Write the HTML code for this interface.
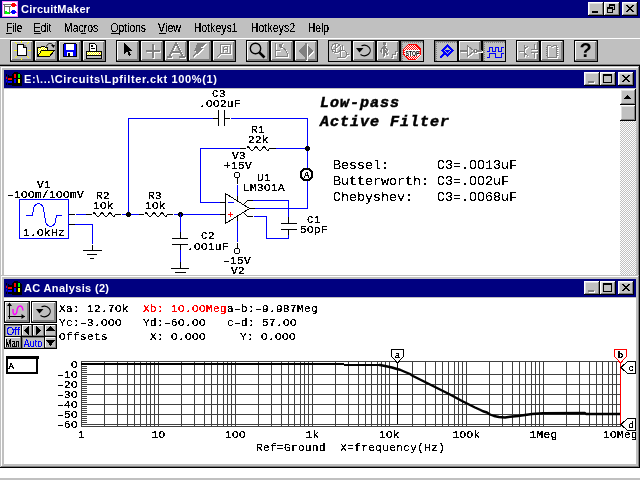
<!DOCTYPE html>
<html><head><meta charset="utf-8"><style>
*{margin:0;padding:0}
html,body{width:640px;height:480px;overflow:hidden;background:#c0c0c0}
svg{display:block;will-change:transform}
text{font-family:"Liberation Sans",sans-serif;white-space:pre}
.tb{font-family:"Liberation Sans",sans-serif;font-weight:bold;font-size:11px;fill:#fff}
.mn{font-family:"Liberation Sans",sans-serif;font-size:12px;fill:#000;filter:url(#thr2)}
.sch{font-family:"Liberation Mono",monospace;font-size:11px;letter-spacing:0.41px;fill:#000;filter:url(#thr)}
.schr{font-family:"Liberation Mono",monospace;font-size:11px;letter-spacing:0.41px;fill:#f00;filter:url(#thr)}
.big{font-family:"Liberation Mono",monospace;font-size:15px;letter-spacing:1px;stroke:#000;stroke-width:0.5px;font-weight:bold;font-style:italic;fill:#000}
.mid{font-family:"Liberation Mono",monospace;font-size:13.33px;fill:#000;filter:url(#thr2)}
.mk{font-family:"Liberation Mono",monospace;font-size:9px;fill:#000;filter:url(#thr)}
.meter{font-family:"Liberation Mono",monospace;font-size:10px;fill:#000;text-anchor:middle}
.sbb{font-family:"Liberation Sans",sans-serif;font-size:11px;fill:#00f;filter:url(#thr2)}
.sbk{font-family:"Liberation Sans",sans-serif;font-size:11px;fill:#000;filter:url(#thr2)}
</style></head><body>
<svg width="640" height="480" viewBox="0 0 640 480" shape-rendering="crispEdges">
<defs><filter id="thr" x="-5%" y="-10%" width="110%" height="120%" color-interpolation-filters="sRGB"><feComponentTransfer><feFuncA type="discrete" tableValues="0 0 0 1 1 1 1 1 1 1"/></feComponentTransfer></filter><filter id="thr2" x="-5%" y="-10%" width="110%" height="120%" color-interpolation-filters="sRGB"><feComponentTransfer><feFuncA type="discrete" tableValues="0 0 0 0 1 1 1 1 1 1"/></feComponentTransfer></filter><pattern id="dither" width="2" height="2" patternUnits="userSpaceOnUse"><rect width="2" height="2" fill="#c0c0c0"/><rect width="1" height="1" fill="#fff"/><rect x="1" y="1" width="1" height="1" fill="#fff"/></pattern><pattern id="ydither" width="2" height="2" patternUnits="userSpaceOnUse"><rect width="2" height="2" fill="#fff"/><rect width="1" height="1" fill="#ffff00"/><rect x="1" y="1" width="1" height="1" fill="#ffff00"/></pattern><pattern id="ddither" width="2" height="2" patternUnits="userSpaceOnUse"><rect width="2" height="2" fill="#c0c0c0"/><rect width="1" height="1" fill="#808080"/><rect x="1" y="1" width="1" height="1" fill="#808080"/></pattern><pattern id="rdither" width="2" height="2" patternUnits="userSpaceOnUse"><rect width="2" height="2" fill="#fff"/><rect width="1" height="1" fill="#f00"/><rect x="1" y="1" width="1" height="1" fill="#f00"/></pattern></defs>
<rect x="0" y="0" width="640" height="480" fill="#c0c0c0"/>
<rect x="0" y="0" width="640" height="18" fill="#000080"/>
<rect x="2" y="1" width="16" height="16" fill="#ff80ff"/>
<rect x="3" y="2" width="14" height="14" fill="#ffffff"/>
<g><rect x="3" y="4" width="9" height="1" fill="#707070"/><rect x="4" y="6" width="7" height="1" fill="#707070"/><rect x="4" y="4" width="1" height="10" fill="#707070"/><rect x="9" y="6" width="1" height="6" fill="#707070"/><rect x="9" y="12" width="3" height="1" fill="#707070"/><rect x="12" y="3" width="3" height="4" fill="#ff0000"/><rect x="15" y="4" width="1" height="2" fill="#ff0000"/><rect x="11" y="4" width="1" height="2" fill="#ff0000"/><rect x="16" y="5" width="1" height="1" fill="#ff00ff"/><rect x="12" y="10" width="3" height="4" fill="#0000ff"/><rect x="11" y="11" width="1" height="2" fill="#0000ff"/><rect x="15" y="11" width="1" height="2" fill="#0000ff"/><rect x="16" y="12" width="1" height="1" fill="#ff00ff"/><rect x="5" y="11" width="2" height="3" fill="#00ff00"/><rect x="7" y="12" width="2" height="2" fill="#00ff00"/><rect x="9" y="13" width="1" height="1" fill="#00c000"/></g>
<text x="21" y="13" class="tb" textLength="69" lengthAdjust="spacing">CircuitMaker</text>
<rect x="588" y="2" width="16" height="14" fill="#c0c0c0"/>
<rect x="588" y="2" width="16" height="1" fill="#ffffff"/>
<rect x="588" y="2" width="1" height="14" fill="#ffffff"/>
<rect x="588" y="15" width="16" height="1" fill="#000000"/>
<rect x="603" y="2" width="1" height="14" fill="#000000"/>
<rect x="589" y="14" width="14" height="1" fill="#808080"/>
<rect x="602" y="3" width="1" height="12" fill="#808080"/>
<rect x="589" y="3" width="13" height="1" fill="#dfdfdf"/>
<rect x="589" y="3" width="1" height="11" fill="#dfdfdf"/>
<rect x="592" y="11" width="6" height="2" fill="#000000"/>
<rect x="604" y="2" width="16" height="14" fill="#c0c0c0"/>
<rect x="604" y="2" width="16" height="1" fill="#ffffff"/>
<rect x="604" y="2" width="1" height="14" fill="#ffffff"/>
<rect x="604" y="15" width="16" height="1" fill="#000000"/>
<rect x="619" y="2" width="1" height="14" fill="#000000"/>
<rect x="605" y="14" width="14" height="1" fill="#808080"/>
<rect x="618" y="3" width="1" height="12" fill="#808080"/>
<rect x="605" y="3" width="13" height="1" fill="#dfdfdf"/>
<rect x="605" y="3" width="1" height="11" fill="#dfdfdf"/>
<rect x="609" y="4" width="6" height="1" fill="#000000"/>
<rect x="609" y="5" width="6" height="1" fill="#000000"/>
<rect x="609" y="4" width="1" height="5" fill="#000000"/>
<rect x="614" y="4" width="1" height="6" fill="#000000"/>
<rect x="612" y="9" width="3" height="1" fill="#000000"/>
<rect x="607" y="7" width="6" height="2" fill="#c0c0c0"/>
<rect x="607" y="7" width="6" height="1" fill="#000000"/>
<rect x="607" y="8" width="6" height="1" fill="#000000"/>
<rect x="607" y="7" width="1" height="6" fill="#000000"/>
<rect x="612" y="7" width="1" height="6" fill="#000000"/>
<rect x="607" y="12" width="6" height="1" fill="#000000"/>
<rect x="622" y="2" width="16" height="14" fill="#c0c0c0"/>
<rect x="622" y="2" width="16" height="1" fill="#ffffff"/>
<rect x="622" y="2" width="1" height="14" fill="#ffffff"/>
<rect x="622" y="15" width="16" height="1" fill="#000000"/>
<rect x="637" y="2" width="1" height="14" fill="#000000"/>
<rect x="623" y="14" width="14" height="1" fill="#808080"/>
<rect x="636" y="3" width="1" height="12" fill="#808080"/>
<rect x="623" y="3" width="13" height="1" fill="#dfdfdf"/>
<rect x="623" y="3" width="1" height="11" fill="#dfdfdf"/>
<rect x="626" y="5" width="2" height="1" fill="#000000"/>
<rect x="632" y="5" width="2" height="1" fill="#000000"/>
<rect x="627" y="6" width="2" height="1" fill="#000000"/>
<rect x="631" y="6" width="2" height="1" fill="#000000"/>
<rect x="628" y="7" width="4" height="1" fill="#000000"/>
<rect x="629" y="8" width="2" height="1" fill="#000000"/>
<rect x="628" y="9" width="4" height="1" fill="#000000"/>
<rect x="627" y="10" width="2" height="1" fill="#000000"/>
<rect x="631" y="10" width="2" height="1" fill="#000000"/>
<rect x="626" y="11" width="2" height="1" fill="#000000"/>
<rect x="632" y="11" width="2" height="1" fill="#000000"/>
<text x="6.2" y="32" class="mn" textLength="16" lengthAdjust="spacingAndGlyphs">File</text>
<text x="33.5" y="32" class="mn" textLength="18" lengthAdjust="spacingAndGlyphs">Edit</text>
<text x="64.1" y="32" class="mn" textLength="34" lengthAdjust="spacingAndGlyphs">Macros</text>
<text x="110.5" y="32" class="mn" textLength="35.5" lengthAdjust="spacingAndGlyphs">Options</text>
<text x="158.1" y="32" class="mn" textLength="23" lengthAdjust="spacingAndGlyphs">View</text>
<text x="193.7" y="32" class="mn" textLength="44" lengthAdjust="spacingAndGlyphs">Hotkeys1</text>
<text x="250.7" y="32" class="mn" textLength="44.5" lengthAdjust="spacingAndGlyphs">Hotkeys2</text>
<text x="307.9" y="32" class="mn" textLength="21" lengthAdjust="spacingAndGlyphs">Help</text>
<rect x="6" y="33" width="6" height="1" fill="#000000"/>
<rect x="34" y="33" width="7" height="1" fill="#000000"/>
<rect x="81" y="33" width="5" height="1" fill="#000000"/>
<rect x="111" y="33" width="8" height="1" fill="#000000"/>
<rect x="159" y="33" width="7" height="1" fill="#000000"/>
<rect x="0" y="38" width="640" height="1" fill="#ffffff"/>
<rect x="10" y="40" width="24" height="22" fill="#c0c0c0"/>
<rect x="10" y="40" width="24" height="1" fill="#000000"/>
<rect x="10" y="61" width="24" height="1" fill="#000000"/>
<rect x="10" y="40" width="1" height="22" fill="#000000"/>
<rect x="33" y="40" width="1" height="22" fill="#000000"/>
<rect x="11" y="41" width="21" height="1" fill="#ffffff"/>
<rect x="11" y="41" width="1" height="19" fill="#ffffff"/>
<rect x="11" y="60" width="22" height="1" fill="#808080"/>
<rect x="32" y="41" width="1" height="20" fill="#808080"/>
<rect x="12" y="59" width="20" height="1" fill="#808080"/>
<rect x="31" y="42" width="1" height="18" fill="#808080"/>
<rect x="34" y="40" width="24" height="22" fill="#c0c0c0"/>
<rect x="34" y="40" width="24" height="1" fill="#000000"/>
<rect x="34" y="61" width="24" height="1" fill="#000000"/>
<rect x="34" y="40" width="1" height="22" fill="#000000"/>
<rect x="57" y="40" width="1" height="22" fill="#000000"/>
<rect x="35" y="41" width="21" height="1" fill="#ffffff"/>
<rect x="35" y="41" width="1" height="19" fill="#ffffff"/>
<rect x="35" y="60" width="22" height="1" fill="#808080"/>
<rect x="56" y="41" width="1" height="20" fill="#808080"/>
<rect x="36" y="59" width="20" height="1" fill="#808080"/>
<rect x="55" y="42" width="1" height="18" fill="#808080"/>
<rect x="58" y="40" width="24" height="22" fill="#c0c0c0"/>
<rect x="58" y="40" width="24" height="1" fill="#000000"/>
<rect x="58" y="61" width="24" height="1" fill="#000000"/>
<rect x="58" y="40" width="1" height="22" fill="#000000"/>
<rect x="81" y="40" width="1" height="22" fill="#000000"/>
<rect x="59" y="41" width="21" height="1" fill="#ffffff"/>
<rect x="59" y="41" width="1" height="19" fill="#ffffff"/>
<rect x="59" y="60" width="22" height="1" fill="#808080"/>
<rect x="80" y="41" width="1" height="20" fill="#808080"/>
<rect x="60" y="59" width="20" height="1" fill="#808080"/>
<rect x="79" y="42" width="1" height="18" fill="#808080"/>
<rect x="82" y="40" width="24" height="22" fill="#c0c0c0"/>
<rect x="82" y="40" width="24" height="1" fill="#000000"/>
<rect x="82" y="61" width="24" height="1" fill="#000000"/>
<rect x="82" y="40" width="1" height="22" fill="#000000"/>
<rect x="105" y="40" width="1" height="22" fill="#000000"/>
<rect x="83" y="41" width="21" height="1" fill="#ffffff"/>
<rect x="83" y="41" width="1" height="19" fill="#ffffff"/>
<rect x="83" y="60" width="22" height="1" fill="#808080"/>
<rect x="104" y="41" width="1" height="20" fill="#808080"/>
<rect x="84" y="59" width="20" height="1" fill="#808080"/>
<rect x="103" y="42" width="1" height="18" fill="#808080"/>
<rect x="116" y="40" width="24" height="22" fill="#c0c0c0"/>
<rect x="116" y="40" width="24" height="1" fill="#000000"/>
<rect x="116" y="61" width="24" height="1" fill="#000000"/>
<rect x="116" y="40" width="1" height="22" fill="#000000"/>
<rect x="139" y="40" width="1" height="22" fill="#000000"/>
<rect x="117" y="41" width="21" height="1" fill="#ffffff"/>
<rect x="117" y="41" width="1" height="19" fill="#ffffff"/>
<rect x="117" y="60" width="22" height="1" fill="#808080"/>
<rect x="138" y="41" width="1" height="20" fill="#808080"/>
<rect x="118" y="59" width="20" height="1" fill="#808080"/>
<rect x="137" y="42" width="1" height="18" fill="#808080"/>
<rect x="140" y="40" width="24" height="22" fill="#c0c0c0"/>
<rect x="140" y="40" width="24" height="1" fill="#000000"/>
<rect x="140" y="61" width="24" height="1" fill="#000000"/>
<rect x="140" y="40" width="1" height="22" fill="#000000"/>
<rect x="163" y="40" width="1" height="22" fill="#000000"/>
<rect x="141" y="41" width="21" height="1" fill="#ffffff"/>
<rect x="141" y="41" width="1" height="19" fill="#ffffff"/>
<rect x="141" y="60" width="22" height="1" fill="#808080"/>
<rect x="162" y="41" width="1" height="20" fill="#808080"/>
<rect x="142" y="59" width="20" height="1" fill="#808080"/>
<rect x="161" y="42" width="1" height="18" fill="#808080"/>
<rect x="164" y="40" width="24" height="22" fill="#c0c0c0"/>
<rect x="164" y="40" width="24" height="1" fill="#000000"/>
<rect x="164" y="61" width="24" height="1" fill="#000000"/>
<rect x="164" y="40" width="1" height="22" fill="#000000"/>
<rect x="187" y="40" width="1" height="22" fill="#000000"/>
<rect x="165" y="41" width="21" height="1" fill="#ffffff"/>
<rect x="165" y="41" width="1" height="19" fill="#ffffff"/>
<rect x="165" y="60" width="22" height="1" fill="#808080"/>
<rect x="186" y="41" width="1" height="20" fill="#808080"/>
<rect x="166" y="59" width="20" height="1" fill="#808080"/>
<rect x="185" y="42" width="1" height="18" fill="#808080"/>
<rect x="188" y="40" width="24" height="22" fill="#c0c0c0"/>
<rect x="188" y="40" width="24" height="1" fill="#000000"/>
<rect x="188" y="61" width="24" height="1" fill="#000000"/>
<rect x="188" y="40" width="1" height="22" fill="#000000"/>
<rect x="211" y="40" width="1" height="22" fill="#000000"/>
<rect x="189" y="41" width="21" height="1" fill="#ffffff"/>
<rect x="189" y="41" width="1" height="19" fill="#ffffff"/>
<rect x="189" y="60" width="22" height="1" fill="#808080"/>
<rect x="210" y="41" width="1" height="20" fill="#808080"/>
<rect x="190" y="59" width="20" height="1" fill="#808080"/>
<rect x="209" y="42" width="1" height="18" fill="#808080"/>
<rect x="212" y="40" width="24" height="22" fill="#c0c0c0"/>
<rect x="212" y="40" width="24" height="1" fill="#000000"/>
<rect x="212" y="61" width="24" height="1" fill="#000000"/>
<rect x="212" y="40" width="1" height="22" fill="#000000"/>
<rect x="235" y="40" width="1" height="22" fill="#000000"/>
<rect x="213" y="41" width="21" height="1" fill="#ffffff"/>
<rect x="213" y="41" width="1" height="19" fill="#ffffff"/>
<rect x="213" y="60" width="22" height="1" fill="#808080"/>
<rect x="234" y="41" width="1" height="20" fill="#808080"/>
<rect x="214" y="59" width="20" height="1" fill="#808080"/>
<rect x="233" y="42" width="1" height="18" fill="#808080"/>
<rect x="246" y="40" width="24" height="22" fill="#c0c0c0"/>
<rect x="246" y="40" width="24" height="1" fill="#000000"/>
<rect x="246" y="61" width="24" height="1" fill="#000000"/>
<rect x="246" y="40" width="1" height="22" fill="#000000"/>
<rect x="269" y="40" width="1" height="22" fill="#000000"/>
<rect x="247" y="41" width="21" height="1" fill="#ffffff"/>
<rect x="247" y="41" width="1" height="19" fill="#ffffff"/>
<rect x="247" y="60" width="22" height="1" fill="#808080"/>
<rect x="268" y="41" width="1" height="20" fill="#808080"/>
<rect x="248" y="59" width="20" height="1" fill="#808080"/>
<rect x="267" y="42" width="1" height="18" fill="#808080"/>
<rect x="270" y="40" width="24" height="22" fill="#c0c0c0"/>
<rect x="270" y="40" width="24" height="1" fill="#000000"/>
<rect x="270" y="61" width="24" height="1" fill="#000000"/>
<rect x="270" y="40" width="1" height="22" fill="#000000"/>
<rect x="293" y="40" width="1" height="22" fill="#000000"/>
<rect x="271" y="41" width="21" height="1" fill="#ffffff"/>
<rect x="271" y="41" width="1" height="19" fill="#ffffff"/>
<rect x="271" y="60" width="22" height="1" fill="#808080"/>
<rect x="292" y="41" width="1" height="20" fill="#808080"/>
<rect x="272" y="59" width="20" height="1" fill="#808080"/>
<rect x="291" y="42" width="1" height="18" fill="#808080"/>
<rect x="294" y="40" width="24" height="22" fill="#c0c0c0"/>
<rect x="294" y="40" width="24" height="1" fill="#000000"/>
<rect x="294" y="61" width="24" height="1" fill="#000000"/>
<rect x="294" y="40" width="1" height="22" fill="#000000"/>
<rect x="317" y="40" width="1" height="22" fill="#000000"/>
<rect x="295" y="41" width="21" height="1" fill="#ffffff"/>
<rect x="295" y="41" width="1" height="19" fill="#ffffff"/>
<rect x="295" y="60" width="22" height="1" fill="#808080"/>
<rect x="316" y="41" width="1" height="20" fill="#808080"/>
<rect x="296" y="59" width="20" height="1" fill="#808080"/>
<rect x="315" y="42" width="1" height="18" fill="#808080"/>
<rect x="328" y="40" width="24" height="22" fill="#c0c0c0"/>
<rect x="328" y="40" width="24" height="1" fill="#000000"/>
<rect x="328" y="61" width="24" height="1" fill="#000000"/>
<rect x="328" y="40" width="1" height="22" fill="#000000"/>
<rect x="351" y="40" width="1" height="22" fill="#000000"/>
<rect x="352" y="40" width="24" height="22" fill="#c0c0c0"/>
<rect x="352" y="40" width="24" height="1" fill="#000000"/>
<rect x="352" y="61" width="24" height="1" fill="#000000"/>
<rect x="352" y="40" width="1" height="22" fill="#000000"/>
<rect x="375" y="40" width="1" height="22" fill="#000000"/>
<rect x="353" y="41" width="21" height="1" fill="#ffffff"/>
<rect x="353" y="41" width="1" height="19" fill="#ffffff"/>
<rect x="353" y="60" width="22" height="1" fill="#808080"/>
<rect x="374" y="41" width="1" height="20" fill="#808080"/>
<rect x="354" y="59" width="20" height="1" fill="#808080"/>
<rect x="373" y="42" width="1" height="18" fill="#808080"/>
<rect x="376" y="40" width="24" height="22" fill="#c0c0c0"/>
<rect x="376" y="40" width="24" height="1" fill="#000000"/>
<rect x="376" y="61" width="24" height="1" fill="#000000"/>
<rect x="376" y="40" width="1" height="22" fill="#000000"/>
<rect x="399" y="40" width="1" height="22" fill="#000000"/>
<rect x="377" y="41" width="21" height="1" fill="#ffffff"/>
<rect x="377" y="41" width="1" height="19" fill="#ffffff"/>
<rect x="377" y="60" width="22" height="1" fill="#808080"/>
<rect x="398" y="41" width="1" height="20" fill="#808080"/>
<rect x="378" y="59" width="20" height="1" fill="#808080"/>
<rect x="397" y="42" width="1" height="18" fill="#808080"/>
<rect x="400" y="40" width="24" height="22" fill="#c0c0c0"/>
<rect x="400" y="40" width="24" height="1" fill="#000000"/>
<rect x="400" y="61" width="24" height="1" fill="#000000"/>
<rect x="400" y="40" width="1" height="22" fill="#000000"/>
<rect x="423" y="40" width="1" height="22" fill="#000000"/>
<rect x="401" y="41" width="22" height="1" fill="#808080"/>
<rect x="401" y="41" width="1" height="20" fill="#808080"/>
<rect x="402" y="42" width="21" height="1" fill="url(#ddither)"/>
<rect x="402" y="42" width="1" height="19" fill="url(#ddither)"/>
<rect x="434" y="40" width="24" height="22" fill="#c0c0c0"/>
<rect x="434" y="40" width="24" height="1" fill="#000000"/>
<rect x="434" y="61" width="24" height="1" fill="#000000"/>
<rect x="434" y="40" width="1" height="22" fill="#000000"/>
<rect x="457" y="40" width="1" height="22" fill="#000000"/>
<rect x="435" y="41" width="22" height="1" fill="#808080"/>
<rect x="435" y="41" width="1" height="20" fill="#808080"/>
<rect x="436" y="42" width="21" height="1" fill="url(#ddither)"/>
<rect x="436" y="42" width="1" height="19" fill="url(#ddither)"/>
<rect x="458" y="40" width="24" height="22" fill="#c0c0c0"/>
<rect x="458" y="40" width="24" height="1" fill="#000000"/>
<rect x="458" y="61" width="24" height="1" fill="#000000"/>
<rect x="458" y="40" width="1" height="22" fill="#000000"/>
<rect x="481" y="40" width="1" height="22" fill="#000000"/>
<rect x="459" y="41" width="21" height="1" fill="#ffffff"/>
<rect x="459" y="41" width="1" height="19" fill="#ffffff"/>
<rect x="459" y="60" width="22" height="1" fill="#808080"/>
<rect x="480" y="41" width="1" height="20" fill="#808080"/>
<rect x="460" y="59" width="20" height="1" fill="#808080"/>
<rect x="479" y="42" width="1" height="18" fill="#808080"/>
<rect x="482" y="40" width="24" height="22" fill="#c0c0c0"/>
<rect x="482" y="40" width="24" height="1" fill="#000000"/>
<rect x="482" y="61" width="24" height="1" fill="#000000"/>
<rect x="482" y="40" width="1" height="22" fill="#000000"/>
<rect x="505" y="40" width="1" height="22" fill="#000000"/>
<rect x="483" y="41" width="22" height="1" fill="#808080"/>
<rect x="483" y="41" width="1" height="20" fill="#808080"/>
<rect x="484" y="42" width="21" height="1" fill="url(#ddither)"/>
<rect x="484" y="42" width="1" height="19" fill="url(#ddither)"/>
<rect x="516" y="40" width="24" height="22" fill="#c0c0c0"/>
<rect x="516" y="40" width="24" height="1" fill="#000000"/>
<rect x="516" y="61" width="24" height="1" fill="#000000"/>
<rect x="516" y="40" width="1" height="22" fill="#000000"/>
<rect x="539" y="40" width="1" height="22" fill="#000000"/>
<rect x="517" y="41" width="21" height="1" fill="#ffffff"/>
<rect x="517" y="41" width="1" height="19" fill="#ffffff"/>
<rect x="517" y="60" width="22" height="1" fill="#808080"/>
<rect x="538" y="41" width="1" height="20" fill="#808080"/>
<rect x="518" y="59" width="20" height="1" fill="#808080"/>
<rect x="537" y="42" width="1" height="18" fill="#808080"/>
<rect x="540" y="40" width="24" height="22" fill="#c0c0c0"/>
<rect x="540" y="40" width="24" height="1" fill="#000000"/>
<rect x="540" y="61" width="24" height="1" fill="#000000"/>
<rect x="540" y="40" width="1" height="22" fill="#000000"/>
<rect x="563" y="40" width="1" height="22" fill="#000000"/>
<rect x="541" y="41" width="21" height="1" fill="#ffffff"/>
<rect x="541" y="41" width="1" height="19" fill="#ffffff"/>
<rect x="541" y="60" width="22" height="1" fill="#808080"/>
<rect x="562" y="41" width="1" height="20" fill="#808080"/>
<rect x="542" y="59" width="20" height="1" fill="#808080"/>
<rect x="561" y="42" width="1" height="18" fill="#808080"/>
<rect x="574" y="40" width="24" height="22" fill="#c0c0c0"/>
<rect x="574" y="40" width="24" height="1" fill="#000000"/>
<rect x="574" y="61" width="24" height="1" fill="#000000"/>
<rect x="574" y="40" width="1" height="22" fill="#000000"/>
<rect x="597" y="40" width="1" height="22" fill="#000000"/>
<rect x="575" y="41" width="21" height="1" fill="#ffffff"/>
<rect x="575" y="41" width="1" height="19" fill="#ffffff"/>
<rect x="575" y="60" width="22" height="1" fill="#808080"/>
<rect x="596" y="41" width="1" height="20" fill="#808080"/>
<rect x="576" y="59" width="20" height="1" fill="#808080"/>
<rect x="595" y="42" width="1" height="18" fill="#808080"/>
<rect x="0" y="64" width="640" height="1" fill="#808080"/>
<rect x="0" y="65" width="640" height="1" fill="#000000"/>
<g transform="translate(10,40)"><path d="M7.5,4.5 H13.5 L16.5,7.5 V15.5 H7.5 Z" fill="#fff" stroke="#000"/><path d="M13.5,4.5 V7.5 H16.5" fill="none" stroke="#000"/><rect x="14" y="5" width="2" height="2" fill="#808080"/><g fill="#ffff00"><rect x="11" y="1" width="1" height="2"/><rect x="4" y="10" width="3" height="1"/><rect x="18" y="10" width="3" height="1"/><rect x="11" y="18" width="1" height="2"/><rect x="5" y="2" width="1" height="1"/><rect x="6" y="3" width="1" height="1"/><rect x="17" y="3" width="1" height="1"/><rect x="18" y="2" width="1" height="1"/><rect x="5" y="17" width="1" height="1"/><rect x="6" y="16" width="1" height="1"/><rect x="17" y="16" width="1" height="1"/><rect x="18" y="17" width="1" height="1"/></g></g>
<g transform="translate(34,40)"><path d="M3.5,7.5 H6.5 L7.5,6.5 H10.5 L11.5,7.5 H13.5 V10.5 H3.5 Z" fill="url(#ydither)" stroke="#000"/><rect x="4" y="8" width="9" height="8" fill="url(#ydither)"/><path d="M3.5,7.5 V16.5" stroke="#000"/><path d="M7.5,10.5 H20.5 L15.5,16.5 H3.5 Z" fill="#ffff00" stroke="#000"/><path d="M12.5,6.5 C13.5,3 17,2.5 19,5" fill="none" stroke="#000" shape-rendering="auto"/><path d="M17,5 L21,5 L19.5,8 Z" fill="#000" shape-rendering="auto"/></g>
<g transform="translate(58,40)"><rect x="5.5" y="3.5" width="13" height="13" fill="#0000ff" stroke="#000"/><rect x="8" y="4" width="8" height="6" fill="#fff"/><rect x="9" y="12" width="6" height="4" fill="#fff"/><rect x="10" y="13" width="2" height="3" fill="#000"/><rect x="5" y="3" width="1" height="1" fill="#c0c0c0"/><rect x="18" y="3" width="1" height="1" fill="#c0c0c0"/></g>
<g transform="translate(82,40)"><path d="M7.5,3.5 H12.5 L14.5,5.5 V11.5 H7.5 Z" fill="#fff" stroke="#000"/><rect x="9" y="5" width="2" height="2" fill="#000"/><rect x="9" y="8" width="4" height="1" fill="#000"/><rect x="4.5" y="11.5" width="15" height="4" fill="url(#ydither)" stroke="#000"/><rect x="17" y="13" width="1" height="1" fill="#f00"/><rect x="4.5" y="15.5" width="15" height="3" fill="#c0c0c0" stroke="#000"/></g>
<g transform="translate(116,40)"><path d="M8,3 V14 L11,11 L13,16 L15,15 L13,10.5 L16,10.5 Z" fill="#000"/></g>
<g transform="translate(140,40)"><g transform="translate(1,1)" fill="#fff" stroke="#fff"><rect x="6" y="10" width="13" height="1"/><rect x="12" y="4" width="1" height="13"/></g><g fill="#808080" stroke="#808080"><rect x="6" y="10" width="13" height="1"/><rect x="12" y="4" width="1" height="13"/></g></g>
<g transform="translate(164,40)"><g transform="translate(1,1)" fill="#fff" stroke="#fff"><path d="M3,17 H8 M15,17 H21 M5,17 L12,3 L19,17 M8,12 H16" fill="none" stroke-width="1.5"/></g><g fill="#808080" stroke="#808080"><path d="M3,17 H8 M15,17 H21 M5,17 L12,3 L19,17 M8,12 H16" fill="none" stroke-width="1.5"/></g></g>
<g transform="translate(188,40)"><g transform="translate(1,1)" fill="#fff" stroke="#fff"><path d="M18,3 L10,3 L7,10 L10,10 L5,17 L15,8 L12,8 Z"/></g><g fill="#808080" stroke="#808080"><path d="M18,3 L10,3 L7,10 L10,10 L5,17 L15,8 L12,8 Z"/></g></g>
<g transform="translate(212,40)"><g transform="translate(1,1)" fill="#fff" stroke="#fff"><rect x="8.5" y="4.5" width="10" height="9" fill="none"/><path d="M11.5,6.5 H15.5 V11.5 M11.5,6.5 V11.5 M11.5,9.5 H15.5" fill="none"/><path d="M8.5,13.5 L4.5,17.5" fill="none"/></g><g fill="#808080" stroke="#808080"><rect x="8.5" y="4.5" width="10" height="9" fill="none"/><path d="M11.5,6.5 H15.5 V11.5 M11.5,6.5 V11.5 M11.5,9.5 H15.5" fill="none"/><path d="M8.5,13.5 L4.5,17.5" fill="none"/></g></g>
<g transform="translate(246,40)"><circle cx="9.5" cy="8.5" r="5.2" fill="none" stroke="#000" stroke-width="1.4" shape-rendering="auto"/><path d="M13.3,12.3 L18.5,17.5" stroke="#000" stroke-width="2.6" shape-rendering="auto"/></g>
<g transform="translate(270,40)"><g transform="translate(1,1)" fill="#fff" stroke="#fff"><path d="M5.5,3 V17 M5.5,16.5 H18 M5.5,10.5 H10 M17.5,16 Q17,8 10,7" fill="none"/><path d="M9,5 L12,4 L11,8 Z"/></g><g fill="#808080" stroke="#808080"><path d="M5.5,3 V17 M5.5,16.5 H18 M5.5,10.5 H10 M17.5,16 Q17,8 10,7" fill="none"/><path d="M9,5 L12,4 L11,8 Z"/></g></g>
<g transform="translate(294,40)"><g transform="translate(1,1)" fill="#fff" stroke="#fff"><path d="M10,6 L5,11 L10,16 Z"/><path d="M14,6 L19,11 L14,16 Z"/><rect x="11.5" y="3" width="1" height="16"/></g><g fill="#808080" stroke="#808080"><path d="M10,6 L5,11 L10,16 Z"/><path d="M14,6 L19,11 L14,16 Z"/><rect x="11.5" y="3" width="1" height="16"/></g></g>
<g transform="translate(328,40)"><g transform="translate(1,1)" fill="#fff" stroke="#fff"><circle cx="8" cy="8" r="4.5" fill="none"/><path d="M7.5,4 V12 M4,9.5 H7.5 M7.5,8.5 L10.5,5.5" fill="none"/><path d="M12.5,10.5 H15.5 A3,3.5 0 0 1 15.5,17.5 H12.5 Z" fill="none"/><path d="M19,14.5 H21 M9,17.5 H12 M14.5,5 V10" fill="none"/></g><g fill="#808080" stroke="#808080"><circle cx="8" cy="8" r="4.5" fill="none"/><path d="M7.5,4 V12 M4,9.5 H7.5 M7.5,8.5 L10.5,5.5" fill="none"/><path d="M12.5,10.5 H15.5 A3,3.5 0 0 1 15.5,17.5 H12.5 Z" fill="none"/><path d="M19,14.5 H21 M9,17.5 H12 M14.5,5 V10" fill="none"/></g></g>
<g transform="translate(352,40)"><path d="M9.5,5.8 A6,5.2 0 1 1 8.5,14.5" fill="none" stroke="#000" stroke-width="1.1" shape-rendering="auto"/><path d="M4,8 L11.5,8 L7.5,12.5 Z" fill="#000" shape-rendering="auto"/></g>
<g transform="translate(376,40)"><g transform="translate(1,1)" fill="#fff" stroke="#fff"><circle cx="8.5" cy="3.5" r="1.6" stroke="none"/><path d="M8.5,5.5 L8,12.5 M8.3,6.5 L5.5,9 L5,12.5 M8.5,6.5 L10.5,9 L12,10 M8.3,10.5 L10.5,12.5 L11.5,15.5 M8,12 L7.5,17.5" fill="none" stroke-width="1.8"/><path d="M14.5,17.5 H16.5 V14.5 H19.5 V11.5 H21" fill="none"/></g><g fill="#808080" stroke="#808080"><circle cx="8.5" cy="3.5" r="1.6" stroke="none"/><path d="M8.5,5.5 L8,12.5 M8.3,6.5 L5.5,9 L5,12.5 M8.5,6.5 L10.5,9 L12,10 M8.3,10.5 L10.5,12.5 L11.5,15.5 M8,12 L7.5,17.5" fill="none" stroke-width="1.8"/><path d="M14.5,17.5 H16.5 V14.5 H19.5 V11.5 H21" fill="none"/></g></g>
<g transform="translate(400,40)"><path d="M8,4 H16 L21,9 V15 L16,20 H8 L3,15 V9 Z" fill="url(#rdither)" stroke="none"/><path d="M8.5,4.5 H15.5 L20.5,9.5 V14.5 L15.5,19.5 H8.5 L3.5,14.5 V9.5 Z" fill="none" stroke="#f00" stroke-width="1.4"/><rect x="5" y="10" width="14" height="6" fill="#fff"/><text x="12.5" y="15.6" text-anchor="middle" font-family="Liberation Sans" font-weight="bold" font-size="8" fill="#000" textLength="14" lengthAdjust="spacingAndGlyphs">STOP</text></g>
<g transform="translate(435,41)"><path d="M12.5,4.5 L17.5,9.5 L12.5,14.5 L7.5,9.5 Z" fill="none" stroke="#0000ff" stroke-width="1.5"/><path d="M10,9 H15 L12.5,12 Z" fill="#0000ff"/><path d="M9.5,12.5 L5,17" stroke="#0000ff" stroke-width="1.5"/></g>
<g transform="translate(458,40)"><g transform="translate(1,1)" fill="#fff" stroke="#fff"><path d="M9.5,5.5 L16,11 L9.5,16.5 Z" fill="none"/><circle cx="17.5" cy="11" r="1.5" fill="none"/><rect x="2" y="10" width="7" height="1"/><rect x="19" y="10" width="4" height="1"/></g><g fill="#808080" stroke="#808080"><path d="M9.5,5.5 L16,11 L9.5,16.5 Z" fill="none"/><circle cx="17.5" cy="11" r="1.5" fill="none"/><rect x="2" y="10" width="7" height="1"/><rect x="19" y="10" width="4" height="1"/></g></g>
<g transform="translate(483,41)"><path d="M4,10.5 H6.5 V6.5 H9.5 V10.5 H12.5 V6.5 H15.5 V10.5 H18.5 V6.5 H21" fill="none" stroke="#0000ff" stroke-width="1.5"/><path d="M4,16.5 H6.5 V12.5 H12.5 V16.5 H18.5 V12.5 H21" fill="none" stroke="#0000ff" stroke-width="1.5"/></g>
<g transform="translate(516,40)"><g transform="translate(1,1)" fill="#fff" stroke="#fff"><path d="M8.5,5 V17 M3,11 H8.5 M8.5,9 L12,6 M8.5,13 L12,16 M15,9.5 H21 M15,12.5 H21 M18,4 V9.5 M18,12.5 V18" fill="none"/></g><g fill="#808080" stroke="#808080"><path d="M8.5,5 V17 M3,11 H8.5 M8.5,9 L12,6 M8.5,13 L12,16 M15,9.5 H21 M15,12.5 H21 M18,4 V9.5 M18,12.5 V18" fill="none"/></g></g>
<g transform="translate(540,40)"><g transform="translate(1,1)" fill="#fff" stroke="#fff"><path d="M7.5,5.5 H10.5 Q12,8 13.5,5.5 H16.5 V17.5 H7.5 Z" fill="none"/><path d="M6,7 H7 M6,9 H7 M6,11 H7 M6,13 H7 M6,15 H7 M17,7 H18 M17,9 H18 M17,11 H18 M17,13 H18 M17,15 H18" fill="none"/></g><g fill="#808080" stroke="#808080"><path d="M7.5,5.5 H10.5 Q12,8 13.5,5.5 H16.5 V17.5 H7.5 Z" fill="none"/><path d="M6,7 H7 M6,9 H7 M6,11 H7 M6,13 H7 M6,15 H7 M17,7 H18 M17,9 H18 M17,11 H18 M17,13 H18 M17,15 H18" fill="none"/></g></g>
<g transform="translate(574,40)"><text x="11.5" y="17" text-anchor="middle" font-family="Liberation Serif" font-weight="bold" font-size="20" fill="#000">?</text></g>
<rect x="0" y="66" width="640" height="412" fill="#ffffff"/>
<rect x="0" y="478" width="640" height="1" fill="#c0c0c0"/>
<rect x="0" y="479" width="640" height="1" fill="#c0c0c0"/>
<rect x="0" y="66" width="640" height="260" fill="#c0c0c0"/>
<rect x="0" y="66" width="640" height="1" fill="#c0c0c0"/>
<rect x="0" y="66" width="1" height="260" fill="#c0c0c0"/>
<rect x="1" y="67" width="638" height="1" fill="#ffffff"/>
<rect x="1" y="67" width="1" height="258" fill="#ffffff"/>
<rect x="0" y="325" width="640" height="1" fill="#000000"/>
<rect x="639" y="66" width="1" height="260" fill="#000000"/>
<rect x="1" y="324" width="638" height="1" fill="#808080"/>
<rect x="638" y="67" width="1" height="258" fill="#808080"/>
<rect x="4" y="70" width="632" height="18" fill="#000080"/>
<g><rect x="6" y="74" width="1" height="1" fill="#000"/><rect x="6" y="75" width="1" height="1" fill="#000"/><rect x="6" y="77" width="1" height="1" fill="#ff0000"/><rect x="6" y="78" width="1" height="1" fill="#ff0000"/><rect x="6" y="80" width="1" height="1" fill="#0000ff"/><rect x="6" y="81" width="1" height="1" fill="#0000ff"/><rect x="6" y="83" width="1" height="1" fill="#000"/><rect x="6" y="84" width="1" height="1" fill="#000"/><rect x="8" y="75" width="1" height="1" fill="#000"/><rect x="8" y="76" width="1" height="1" fill="#000"/><rect x="8" y="77" width="1" height="1" fill="#000"/><rect x="8" y="78" width="1" height="1" fill="#ff0000"/><rect x="8" y="79" width="1" height="1" fill="#ff0000"/><rect x="8" y="80" width="1" height="1" fill="#000"/><rect x="8" y="81" width="1" height="1" fill="#0000ff"/><rect x="8" y="82" width="1" height="1" fill="#0000ff"/><rect x="8" y="83" width="1" height="1" fill="#000"/><rect x="8" y="84" width="1" height="1" fill="#000"/><rect x="9" y="76" width="1" height="1" fill="#000"/><rect x="9" y="77" width="1" height="1" fill="#000"/><rect x="9" y="78" width="1" height="1" fill="#ff0000"/><rect x="9" y="79" width="1" height="1" fill="#ff0000"/><rect x="9" y="80" width="1" height="1" fill="#000"/><rect x="9" y="81" width="1" height="1" fill="#0000ff"/><rect x="9" y="82" width="1" height="1" fill="#0000ff"/><rect x="9" y="83" width="1" height="1" fill="#000"/><rect x="9" y="84" width="1" height="1" fill="#000"/><rect x="10" y="76" width="1" height="1" fill="#000"/><rect x="10" y="77" width="1" height="1" fill="#000"/><rect x="10" y="78" width="1" height="1" fill="#ff0000"/><rect x="10" y="79" width="1" height="1" fill="#ff0000"/><rect x="10" y="80" width="1" height="1" fill="#000"/><rect x="10" y="81" width="1" height="1" fill="#0000ff"/><rect x="10" y="82" width="1" height="1" fill="#0000ff"/><rect x="10" y="83" width="1" height="1" fill="#000"/><rect x="10" y="84" width="1" height="1" fill="#000"/><rect x="11" y="76" width="1" height="1" fill="#000"/><rect x="11" y="77" width="1" height="1" fill="#000"/><rect x="11" y="78" width="1" height="1" fill="#ff0000"/><rect x="11" y="79" width="1" height="1" fill="#ff0000"/><rect x="11" y="80" width="1" height="1" fill="#000"/><rect x="11" y="81" width="1" height="1" fill="#0000ff"/><rect x="11" y="82" width="1" height="1" fill="#0000ff"/><rect x="11" y="83" width="1" height="1" fill="#000"/><rect x="11" y="84" width="1" height="1" fill="#000"/><rect x="12" y="74" width="1" height="1" fill="#000"/><rect x="12" y="75" width="1" height="1" fill="#000"/><rect x="12" y="76" width="1" height="1" fill="#000"/><rect x="12" y="77" width="1" height="1" fill="#000"/><rect x="12" y="78" width="1" height="1" fill="#000"/><rect x="12" y="79" width="1" height="1" fill="#000"/><rect x="12" y="80" width="1" height="1" fill="#000"/><rect x="12" y="81" width="1" height="1" fill="#000"/><rect x="12" y="82" width="1" height="1" fill="#000"/><rect x="12" y="83" width="1" height="1" fill="#000"/><rect x="12" y="84" width="1" height="1" fill="#000"/><rect x="12" y="85" width="1" height="1" fill="#000"/><rect x="13" y="73" width="1" height="1" fill="#000"/><rect x="13" y="74" width="1" height="1" fill="#000"/><rect x="13" y="75" width="1" height="1" fill="#000"/><rect x="13" y="76" width="1" height="1" fill="#000"/><rect x="13" y="77" width="1" height="1" fill="#000"/><rect x="13" y="78" width="1" height="1" fill="#000"/><rect x="13" y="79" width="1" height="1" fill="#000"/><rect x="13" y="80" width="1" height="1" fill="#000"/><rect x="13" y="81" width="1" height="1" fill="#000"/><rect x="13" y="82" width="1" height="1" fill="#000"/><rect x="13" y="83" width="1" height="1" fill="#000"/><rect x="13" y="84" width="1" height="1" fill="#000"/><rect x="13" y="85" width="1" height="1" fill="#000"/><rect x="14" y="72" width="1" height="1" fill="#000"/><rect x="14" y="73" width="1" height="1" fill="#000"/><rect x="14" y="74" width="1" height="1" fill="#ff0000"/><rect x="14" y="75" width="1" height="1" fill="#ff0000"/><rect x="14" y="76" width="1" height="1" fill="#ff0000"/><rect x="14" y="77" width="1" height="1" fill="#ff0000"/><rect x="14" y="78" width="1" height="1" fill="#000"/><rect x="14" y="79" width="1" height="1" fill="#0000ff"/><rect x="14" y="80" width="1" height="1" fill="#0000ff"/><rect x="14" y="81" width="1" height="1" fill="#0000ff"/><rect x="14" y="82" width="1" height="1" fill="#0000ff"/><rect x="14" y="83" width="1" height="1" fill="#000"/><rect x="14" y="84" width="1" height="1" fill="#000"/><rect x="14" y="85" width="1" height="1" fill="#000"/><rect x="15" y="72" width="1" height="1" fill="#000"/><rect x="15" y="73" width="1" height="1" fill="#000"/><rect x="15" y="74" width="1" height="1" fill="#ff0000"/><rect x="15" y="75" width="1" height="1" fill="#ff0000"/><rect x="15" y="76" width="1" height="1" fill="#ff0000"/><rect x="15" y="77" width="1" height="1" fill="#ff0000"/><rect x="15" y="78" width="1" height="1" fill="#000"/><rect x="15" y="79" width="1" height="1" fill="#0000ff"/><rect x="15" y="80" width="1" height="1" fill="#0000ff"/><rect x="15" y="81" width="1" height="1" fill="#0000ff"/><rect x="15" y="82" width="1" height="1" fill="#0000ff"/><rect x="15" y="83" width="1" height="1" fill="#000"/><rect x="15" y="84" width="1" height="1" fill="#000"/><rect x="15" y="85" width="1" height="1" fill="#000"/><rect x="16" y="72" width="1" height="1" fill="#000"/><rect x="16" y="73" width="1" height="1" fill="#000"/><rect x="16" y="74" width="1" height="1" fill="#000"/><rect x="16" y="75" width="1" height="1" fill="#000"/><rect x="16" y="76" width="1" height="1" fill="#000"/><rect x="16" y="77" width="1" height="1" fill="#000"/><rect x="16" y="78" width="1" height="1" fill="#000"/><rect x="16" y="79" width="1" height="1" fill="#000"/><rect x="16" y="80" width="1" height="1" fill="#000"/><rect x="16" y="81" width="1" height="1" fill="#000"/><rect x="16" y="82" width="1" height="1" fill="#000"/><rect x="16" y="83" width="1" height="1" fill="#000"/><rect x="16" y="84" width="1" height="1" fill="#000"/><rect x="16" y="85" width="1" height="1" fill="#000"/><rect x="17" y="72" width="1" height="1" fill="#000"/><rect x="17" y="73" width="1" height="1" fill="#000"/><rect x="17" y="74" width="1" height="1" fill="#000"/><rect x="17" y="75" width="1" height="1" fill="#000"/><rect x="17" y="76" width="1" height="1" fill="#000"/><rect x="17" y="77" width="1" height="1" fill="#000"/><rect x="17" y="78" width="1" height="1" fill="#000"/><rect x="17" y="79" width="1" height="1" fill="#000"/><rect x="17" y="80" width="1" height="1" fill="#000"/><rect x="17" y="81" width="1" height="1" fill="#000"/><rect x="17" y="82" width="1" height="1" fill="#000"/><rect x="17" y="83" width="1" height="1" fill="#000"/><rect x="17" y="84" width="1" height="1" fill="#000"/><rect x="17" y="85" width="1" height="1" fill="#000"/><rect x="18" y="73" width="1" height="1" fill="#000"/><rect x="18" y="74" width="1" height="1" fill="#00ff00"/><rect x="18" y="75" width="1" height="1" fill="#00ff00"/><rect x="18" y="76" width="1" height="1" fill="#00ff00"/><rect x="18" y="77" width="1" height="1" fill="#00ff00"/><rect x="18" y="78" width="1" height="1" fill="#000"/><rect x="18" y="79" width="1" height="1" fill="#ffff00"/><rect x="18" y="80" width="1" height="1" fill="#ffff00"/><rect x="18" y="81" width="1" height="1" fill="#ffff00"/><rect x="18" y="82" width="1" height="1" fill="#ffff00"/><rect x="18" y="83" width="1" height="1" fill="#000"/><rect x="18" y="84" width="1" height="1" fill="#000"/><rect x="18" y="85" width="1" height="1" fill="#000"/><rect x="19" y="73" width="1" height="1" fill="#000"/><rect x="19" y="74" width="1" height="1" fill="#00ff00"/><rect x="19" y="75" width="1" height="1" fill="#00ff00"/><rect x="19" y="76" width="1" height="1" fill="#00ff00"/><rect x="19" y="77" width="1" height="1" fill="#00ff00"/><rect x="19" y="78" width="1" height="1" fill="#000"/><rect x="19" y="79" width="1" height="1" fill="#ffff00"/><rect x="19" y="80" width="1" height="1" fill="#ffff00"/><rect x="19" y="81" width="1" height="1" fill="#ffff00"/><rect x="19" y="82" width="1" height="1" fill="#ffff00"/><rect x="19" y="83" width="1" height="1" fill="#000"/><rect x="19" y="84" width="1" height="1" fill="#000"/><rect x="19" y="85" width="1" height="1" fill="#000"/><rect x="20" y="74" width="1" height="1" fill="#000"/><rect x="20" y="75" width="1" height="1" fill="#000"/><rect x="20" y="76" width="1" height="1" fill="#000"/><rect x="20" y="77" width="1" height="1" fill="#000"/><rect x="20" y="78" width="1" height="1" fill="#000"/><rect x="20" y="79" width="1" height="1" fill="#000"/><rect x="20" y="80" width="1" height="1" fill="#000"/><rect x="20" y="81" width="1" height="1" fill="#000"/><rect x="20" y="82" width="1" height="1" fill="#000"/><rect x="20" y="83" width="1" height="1" fill="#000"/><rect x="20" y="84" width="1" height="1" fill="#000"/><rect x="20" y="85" width="1" height="1" fill="#000"/><rect x="21" y="75" width="1" height="1" fill="#000"/><rect x="21" y="76" width="1" height="1" fill="#000"/><rect x="21" y="77" width="1" height="1" fill="#000"/><rect x="21" y="78" width="1" height="1" fill="#000"/><rect x="21" y="79" width="1" height="1" fill="#000"/><rect x="21" y="80" width="1" height="1" fill="#000"/><rect x="21" y="81" width="1" height="1" fill="#000"/><rect x="21" y="82" width="1" height="1" fill="#000"/><rect x="21" y="83" width="1" height="1" fill="#000"/><rect x="21" y="84" width="1" height="1" fill="#000"/><rect x="21" y="85" width="1" height="1" fill="#000"/></g>
<text x="24" y="83" class="tb" textLength="193" lengthAdjust="spacing">E:\...\Circuits\Lpfilter.ckt 100%(1)</text>
<rect x="584" y="72" width="16" height="14" fill="#c0c0c0"/>
<rect x="584" y="72" width="16" height="1" fill="#ffffff"/>
<rect x="584" y="72" width="1" height="14" fill="#ffffff"/>
<rect x="584" y="85" width="16" height="1" fill="#000000"/>
<rect x="599" y="72" width="1" height="14" fill="#000000"/>
<rect x="585" y="84" width="14" height="1" fill="#808080"/>
<rect x="598" y="73" width="1" height="12" fill="#808080"/>
<rect x="585" y="73" width="13" height="1" fill="#dfdfdf"/>
<rect x="585" y="73" width="1" height="11" fill="#dfdfdf"/>
<rect x="589" y="82" width="6" height="2" fill="#ffffff"/>
<rect x="588" y="81" width="6" height="2" fill="#808080"/>
<rect x="600" y="72" width="16" height="14" fill="#c0c0c0"/>
<rect x="600" y="72" width="16" height="1" fill="#ffffff"/>
<rect x="600" y="72" width="1" height="14" fill="#ffffff"/>
<rect x="600" y="85" width="16" height="1" fill="#000000"/>
<rect x="615" y="72" width="1" height="14" fill="#000000"/>
<rect x="601" y="84" width="14" height="1" fill="#808080"/>
<rect x="614" y="73" width="1" height="12" fill="#808080"/>
<rect x="601" y="73" width="13" height="1" fill="#dfdfdf"/>
<rect x="601" y="73" width="1" height="11" fill="#dfdfdf"/>
<rect x="603" y="74" width="9" height="9" fill="#000000"/>
<rect x="604" y="76" width="7" height="6" fill="#c0c0c0"/>
<rect x="618" y="72" width="16" height="14" fill="#c0c0c0"/>
<rect x="618" y="72" width="16" height="1" fill="#ffffff"/>
<rect x="618" y="72" width="1" height="14" fill="#ffffff"/>
<rect x="618" y="85" width="16" height="1" fill="#000000"/>
<rect x="633" y="72" width="1" height="14" fill="#000000"/>
<rect x="619" y="84" width="14" height="1" fill="#808080"/>
<rect x="632" y="73" width="1" height="12" fill="#808080"/>
<rect x="619" y="73" width="13" height="1" fill="#dfdfdf"/>
<rect x="619" y="73" width="1" height="11" fill="#dfdfdf"/>
<rect x="622" y="75" width="2" height="1" fill="#000000"/>
<rect x="628" y="75" width="2" height="1" fill="#000000"/>
<rect x="623" y="76" width="2" height="1" fill="#000000"/>
<rect x="627" y="76" width="2" height="1" fill="#000000"/>
<rect x="624" y="77" width="4" height="1" fill="#000000"/>
<rect x="625" y="78" width="2" height="1" fill="#000000"/>
<rect x="624" y="79" width="4" height="1" fill="#000000"/>
<rect x="623" y="80" width="2" height="1" fill="#000000"/>
<rect x="627" y="80" width="2" height="1" fill="#000000"/>
<rect x="622" y="81" width="2" height="1" fill="#000000"/>
<rect x="628" y="81" width="2" height="1" fill="#000000"/>
<rect x="4" y="88" width="632" height="1" fill="#c0c0c0"/>
<rect x="4" y="89" width="632" height="230" fill="#ffffff"/>
<rect x="620" y="89" width="16" height="230" fill="url(#dither)"/>
<rect x="620" y="89" width="16" height="16" fill="#c0c0c0"/>
<rect x="620" y="89" width="16" height="1" fill="#ffffff"/>
<rect x="620" y="89" width="1" height="16" fill="#ffffff"/>
<rect x="620" y="104" width="16" height="1" fill="#000000"/>
<rect x="635" y="89" width="1" height="16" fill="#000000"/>
<rect x="621" y="103" width="14" height="1" fill="#808080"/>
<rect x="634" y="90" width="1" height="14" fill="#808080"/>
<rect x="621" y="90" width="13" height="1" fill="#dfdfdf"/>
<rect x="621" y="90" width="1" height="13" fill="#dfdfdf"/>
<path d="M627.5,94.5 L627.5,94.5" stroke="#000" stroke-width="1" fill="none" />
<rect x="627" y="95" width="1" height="1" fill="#000000"/>
<rect x="626" y="96" width="3" height="1" fill="#000000"/>
<rect x="625" y="97" width="5" height="1" fill="#000000"/>
<rect x="624" y="98" width="7" height="1" fill="#000000"/>
<rect x="620" y="105" width="16" height="16" fill="#c0c0c0"/>
<rect x="620" y="105" width="16" height="1" fill="#ffffff"/>
<rect x="620" y="105" width="1" height="16" fill="#ffffff"/>
<rect x="620" y="120" width="16" height="1" fill="#000000"/>
<rect x="635" y="105" width="1" height="16" fill="#000000"/>
<rect x="621" y="119" width="14" height="1" fill="#808080"/>
<rect x="634" y="106" width="1" height="14" fill="#808080"/>
<rect x="621" y="106" width="13" height="1" fill="#dfdfdf"/>
<rect x="621" y="106" width="1" height="13" fill="#dfdfdf"/>
<rect x="0" y="275" width="640" height="193" fill="#c0c0c0"/>
<rect x="0" y="275" width="640" height="1" fill="#c0c0c0"/>
<rect x="0" y="275" width="1" height="193" fill="#c0c0c0"/>
<rect x="1" y="276" width="638" height="1" fill="#ffffff"/>
<rect x="1" y="276" width="1" height="191" fill="#ffffff"/>
<rect x="0" y="467" width="640" height="1" fill="#000000"/>
<rect x="639" y="275" width="1" height="193" fill="#000000"/>
<rect x="1" y="466" width="638" height="1" fill="#808080"/>
<rect x="638" y="276" width="1" height="191" fill="#808080"/>
<rect x="4" y="279" width="632" height="18" fill="#000080"/>
<g><rect x="6" y="283" width="1" height="1" fill="#000"/><rect x="6" y="284" width="1" height="1" fill="#000"/><rect x="6" y="286" width="1" height="1" fill="#ff0000"/><rect x="6" y="287" width="1" height="1" fill="#ff0000"/><rect x="6" y="289" width="1" height="1" fill="#0000ff"/><rect x="6" y="290" width="1" height="1" fill="#0000ff"/><rect x="6" y="292" width="1" height="1" fill="#000"/><rect x="6" y="293" width="1" height="1" fill="#000"/><rect x="8" y="284" width="1" height="1" fill="#000"/><rect x="8" y="285" width="1" height="1" fill="#000"/><rect x="8" y="286" width="1" height="1" fill="#000"/><rect x="8" y="287" width="1" height="1" fill="#ff0000"/><rect x="8" y="288" width="1" height="1" fill="#ff0000"/><rect x="8" y="289" width="1" height="1" fill="#000"/><rect x="8" y="290" width="1" height="1" fill="#0000ff"/><rect x="8" y="291" width="1" height="1" fill="#0000ff"/><rect x="8" y="292" width="1" height="1" fill="#000"/><rect x="8" y="293" width="1" height="1" fill="#000"/><rect x="9" y="285" width="1" height="1" fill="#000"/><rect x="9" y="286" width="1" height="1" fill="#000"/><rect x="9" y="287" width="1" height="1" fill="#ff0000"/><rect x="9" y="288" width="1" height="1" fill="#ff0000"/><rect x="9" y="289" width="1" height="1" fill="#000"/><rect x="9" y="290" width="1" height="1" fill="#0000ff"/><rect x="9" y="291" width="1" height="1" fill="#0000ff"/><rect x="9" y="292" width="1" height="1" fill="#000"/><rect x="9" y="293" width="1" height="1" fill="#000"/><rect x="10" y="285" width="1" height="1" fill="#000"/><rect x="10" y="286" width="1" height="1" fill="#000"/><rect x="10" y="287" width="1" height="1" fill="#ff0000"/><rect x="10" y="288" width="1" height="1" fill="#ff0000"/><rect x="10" y="289" width="1" height="1" fill="#000"/><rect x="10" y="290" width="1" height="1" fill="#0000ff"/><rect x="10" y="291" width="1" height="1" fill="#0000ff"/><rect x="10" y="292" width="1" height="1" fill="#000"/><rect x="10" y="293" width="1" height="1" fill="#000"/><rect x="11" y="285" width="1" height="1" fill="#000"/><rect x="11" y="286" width="1" height="1" fill="#000"/><rect x="11" y="287" width="1" height="1" fill="#ff0000"/><rect x="11" y="288" width="1" height="1" fill="#ff0000"/><rect x="11" y="289" width="1" height="1" fill="#000"/><rect x="11" y="290" width="1" height="1" fill="#0000ff"/><rect x="11" y="291" width="1" height="1" fill="#0000ff"/><rect x="11" y="292" width="1" height="1" fill="#000"/><rect x="11" y="293" width="1" height="1" fill="#000"/><rect x="12" y="283" width="1" height="1" fill="#000"/><rect x="12" y="284" width="1" height="1" fill="#000"/><rect x="12" y="285" width="1" height="1" fill="#000"/><rect x="12" y="286" width="1" height="1" fill="#000"/><rect x="12" y="287" width="1" height="1" fill="#000"/><rect x="12" y="288" width="1" height="1" fill="#000"/><rect x="12" y="289" width="1" height="1" fill="#000"/><rect x="12" y="290" width="1" height="1" fill="#000"/><rect x="12" y="291" width="1" height="1" fill="#000"/><rect x="12" y="292" width="1" height="1" fill="#000"/><rect x="12" y="293" width="1" height="1" fill="#000"/><rect x="12" y="294" width="1" height="1" fill="#000"/><rect x="13" y="282" width="1" height="1" fill="#000"/><rect x="13" y="283" width="1" height="1" fill="#000"/><rect x="13" y="284" width="1" height="1" fill="#000"/><rect x="13" y="285" width="1" height="1" fill="#000"/><rect x="13" y="286" width="1" height="1" fill="#000"/><rect x="13" y="287" width="1" height="1" fill="#000"/><rect x="13" y="288" width="1" height="1" fill="#000"/><rect x="13" y="289" width="1" height="1" fill="#000"/><rect x="13" y="290" width="1" height="1" fill="#000"/><rect x="13" y="291" width="1" height="1" fill="#000"/><rect x="13" y="292" width="1" height="1" fill="#000"/><rect x="13" y="293" width="1" height="1" fill="#000"/><rect x="13" y="294" width="1" height="1" fill="#000"/><rect x="14" y="281" width="1" height="1" fill="#000"/><rect x="14" y="282" width="1" height="1" fill="#000"/><rect x="14" y="283" width="1" height="1" fill="#ff0000"/><rect x="14" y="284" width="1" height="1" fill="#ff0000"/><rect x="14" y="285" width="1" height="1" fill="#ff0000"/><rect x="14" y="286" width="1" height="1" fill="#ff0000"/><rect x="14" y="287" width="1" height="1" fill="#000"/><rect x="14" y="288" width="1" height="1" fill="#0000ff"/><rect x="14" y="289" width="1" height="1" fill="#0000ff"/><rect x="14" y="290" width="1" height="1" fill="#0000ff"/><rect x="14" y="291" width="1" height="1" fill="#0000ff"/><rect x="14" y="292" width="1" height="1" fill="#000"/><rect x="14" y="293" width="1" height="1" fill="#000"/><rect x="14" y="294" width="1" height="1" fill="#000"/><rect x="15" y="281" width="1" height="1" fill="#000"/><rect x="15" y="282" width="1" height="1" fill="#000"/><rect x="15" y="283" width="1" height="1" fill="#ff0000"/><rect x="15" y="284" width="1" height="1" fill="#ff0000"/><rect x="15" y="285" width="1" height="1" fill="#ff0000"/><rect x="15" y="286" width="1" height="1" fill="#ff0000"/><rect x="15" y="287" width="1" height="1" fill="#000"/><rect x="15" y="288" width="1" height="1" fill="#0000ff"/><rect x="15" y="289" width="1" height="1" fill="#0000ff"/><rect x="15" y="290" width="1" height="1" fill="#0000ff"/><rect x="15" y="291" width="1" height="1" fill="#0000ff"/><rect x="15" y="292" width="1" height="1" fill="#000"/><rect x="15" y="293" width="1" height="1" fill="#000"/><rect x="15" y="294" width="1" height="1" fill="#000"/><rect x="16" y="281" width="1" height="1" fill="#000"/><rect x="16" y="282" width="1" height="1" fill="#000"/><rect x="16" y="283" width="1" height="1" fill="#000"/><rect x="16" y="284" width="1" height="1" fill="#000"/><rect x="16" y="285" width="1" height="1" fill="#000"/><rect x="16" y="286" width="1" height="1" fill="#000"/><rect x="16" y="287" width="1" height="1" fill="#000"/><rect x="16" y="288" width="1" height="1" fill="#000"/><rect x="16" y="289" width="1" height="1" fill="#000"/><rect x="16" y="290" width="1" height="1" fill="#000"/><rect x="16" y="291" width="1" height="1" fill="#000"/><rect x="16" y="292" width="1" height="1" fill="#000"/><rect x="16" y="293" width="1" height="1" fill="#000"/><rect x="16" y="294" width="1" height="1" fill="#000"/><rect x="17" y="281" width="1" height="1" fill="#000"/><rect x="17" y="282" width="1" height="1" fill="#000"/><rect x="17" y="283" width="1" height="1" fill="#000"/><rect x="17" y="284" width="1" height="1" fill="#000"/><rect x="17" y="285" width="1" height="1" fill="#000"/><rect x="17" y="286" width="1" height="1" fill="#000"/><rect x="17" y="287" width="1" height="1" fill="#000"/><rect x="17" y="288" width="1" height="1" fill="#000"/><rect x="17" y="289" width="1" height="1" fill="#000"/><rect x="17" y="290" width="1" height="1" fill="#000"/><rect x="17" y="291" width="1" height="1" fill="#000"/><rect x="17" y="292" width="1" height="1" fill="#000"/><rect x="17" y="293" width="1" height="1" fill="#000"/><rect x="17" y="294" width="1" height="1" fill="#000"/><rect x="18" y="282" width="1" height="1" fill="#000"/><rect x="18" y="283" width="1" height="1" fill="#00ff00"/><rect x="18" y="284" width="1" height="1" fill="#00ff00"/><rect x="18" y="285" width="1" height="1" fill="#00ff00"/><rect x="18" y="286" width="1" height="1" fill="#00ff00"/><rect x="18" y="287" width="1" height="1" fill="#000"/><rect x="18" y="288" width="1" height="1" fill="#ffff00"/><rect x="18" y="289" width="1" height="1" fill="#ffff00"/><rect x="18" y="290" width="1" height="1" fill="#ffff00"/><rect x="18" y="291" width="1" height="1" fill="#ffff00"/><rect x="18" y="292" width="1" height="1" fill="#000"/><rect x="18" y="293" width="1" height="1" fill="#000"/><rect x="18" y="294" width="1" height="1" fill="#000"/><rect x="19" y="282" width="1" height="1" fill="#000"/><rect x="19" y="283" width="1" height="1" fill="#00ff00"/><rect x="19" y="284" width="1" height="1" fill="#00ff00"/><rect x="19" y="285" width="1" height="1" fill="#00ff00"/><rect x="19" y="286" width="1" height="1" fill="#00ff00"/><rect x="19" y="287" width="1" height="1" fill="#000"/><rect x="19" y="288" width="1" height="1" fill="#ffff00"/><rect x="19" y="289" width="1" height="1" fill="#ffff00"/><rect x="19" y="290" width="1" height="1" fill="#ffff00"/><rect x="19" y="291" width="1" height="1" fill="#ffff00"/><rect x="19" y="292" width="1" height="1" fill="#000"/><rect x="19" y="293" width="1" height="1" fill="#000"/><rect x="19" y="294" width="1" height="1" fill="#000"/><rect x="20" y="283" width="1" height="1" fill="#000"/><rect x="20" y="284" width="1" height="1" fill="#000"/><rect x="20" y="285" width="1" height="1" fill="#000"/><rect x="20" y="286" width="1" height="1" fill="#000"/><rect x="20" y="287" width="1" height="1" fill="#000"/><rect x="20" y="288" width="1" height="1" fill="#000"/><rect x="20" y="289" width="1" height="1" fill="#000"/><rect x="20" y="290" width="1" height="1" fill="#000"/><rect x="20" y="291" width="1" height="1" fill="#000"/><rect x="20" y="292" width="1" height="1" fill="#000"/><rect x="20" y="293" width="1" height="1" fill="#000"/><rect x="20" y="294" width="1" height="1" fill="#000"/><rect x="21" y="284" width="1" height="1" fill="#000"/><rect x="21" y="285" width="1" height="1" fill="#000"/><rect x="21" y="286" width="1" height="1" fill="#000"/><rect x="21" y="287" width="1" height="1" fill="#000"/><rect x="21" y="288" width="1" height="1" fill="#000"/><rect x="21" y="289" width="1" height="1" fill="#000"/><rect x="21" y="290" width="1" height="1" fill="#000"/><rect x="21" y="291" width="1" height="1" fill="#000"/><rect x="21" y="292" width="1" height="1" fill="#000"/><rect x="21" y="293" width="1" height="1" fill="#000"/><rect x="21" y="294" width="1" height="1" fill="#000"/></g>
<text x="24" y="292" class="tb" textLength="85" lengthAdjust="spacing">AC Analysis (2)</text>
<rect x="584" y="281" width="16" height="14" fill="#c0c0c0"/>
<rect x="584" y="281" width="16" height="1" fill="#ffffff"/>
<rect x="584" y="281" width="1" height="14" fill="#ffffff"/>
<rect x="584" y="294" width="16" height="1" fill="#000000"/>
<rect x="599" y="281" width="1" height="14" fill="#000000"/>
<rect x="585" y="293" width="14" height="1" fill="#808080"/>
<rect x="598" y="282" width="1" height="12" fill="#808080"/>
<rect x="585" y="282" width="13" height="1" fill="#dfdfdf"/>
<rect x="585" y="282" width="1" height="11" fill="#dfdfdf"/>
<rect x="589" y="291" width="6" height="2" fill="#ffffff"/>
<rect x="588" y="290" width="6" height="2" fill="#808080"/>
<rect x="600" y="281" width="16" height="14" fill="#c0c0c0"/>
<rect x="600" y="281" width="16" height="1" fill="#ffffff"/>
<rect x="600" y="281" width="1" height="14" fill="#ffffff"/>
<rect x="600" y="294" width="16" height="1" fill="#000000"/>
<rect x="615" y="281" width="1" height="14" fill="#000000"/>
<rect x="601" y="293" width="14" height="1" fill="#808080"/>
<rect x="614" y="282" width="1" height="12" fill="#808080"/>
<rect x="601" y="282" width="13" height="1" fill="#dfdfdf"/>
<rect x="601" y="282" width="1" height="11" fill="#dfdfdf"/>
<rect x="603" y="283" width="9" height="9" fill="#000000"/>
<rect x="604" y="285" width="7" height="6" fill="#c0c0c0"/>
<rect x="618" y="281" width="16" height="14" fill="#c0c0c0"/>
<rect x="618" y="281" width="16" height="1" fill="#ffffff"/>
<rect x="618" y="281" width="1" height="14" fill="#ffffff"/>
<rect x="618" y="294" width="16" height="1" fill="#000000"/>
<rect x="633" y="281" width="1" height="14" fill="#000000"/>
<rect x="619" y="293" width="14" height="1" fill="#808080"/>
<rect x="632" y="282" width="1" height="12" fill="#808080"/>
<rect x="619" y="282" width="13" height="1" fill="#dfdfdf"/>
<rect x="619" y="282" width="1" height="11" fill="#dfdfdf"/>
<rect x="622" y="284" width="2" height="1" fill="#000000"/>
<rect x="628" y="284" width="2" height="1" fill="#000000"/>
<rect x="623" y="285" width="2" height="1" fill="#000000"/>
<rect x="627" y="285" width="2" height="1" fill="#000000"/>
<rect x="624" y="286" width="4" height="1" fill="#000000"/>
<rect x="625" y="287" width="2" height="1" fill="#000000"/>
<rect x="624" y="288" width="4" height="1" fill="#000000"/>
<rect x="623" y="289" width="2" height="1" fill="#000000"/>
<rect x="627" y="289" width="2" height="1" fill="#000000"/>
<rect x="622" y="290" width="2" height="1" fill="#000000"/>
<rect x="628" y="290" width="2" height="1" fill="#000000"/>
<rect x="4" y="297" width="632" height="1" fill="#c0c0c0"/>
<rect x="4" y="298" width="632" height="166" fill="#ffffff"/>
<rect x="128" y="118" width="85" height="1" fill="#0000ff"/>
<rect x="213" y="118" width="5" height="1" fill="#000000"/>
<rect x="218" y="110" width="1" height="16" fill="#000000"/>
<rect x="224" y="110" width="1" height="16" fill="#000000"/>
<rect x="225" y="118" width="5" height="1" fill="#000000"/>
<rect x="231" y="118" width="77" height="1" fill="#0000ff"/>
<text x="212" y="97" class="sch" >C3</text>
<text x="199" y="107" class="sch" >.OO2uF</text>
<rect x="128" y="118" width="1" height="97" fill="#0000ff"/>
<rect x="307" y="118" width="1" height="91" fill="#0000ff"/>
<rect x="200" y="148" width="40" height="1" fill="#0000ff"/>
<rect x="240" y="148" width="6" height="1" fill="#000000"/>
<path d="M246.5,148.5 L248.0,146.5 L252.0,151.0 L256.0,146.5 L260.0,151.0 L264.0,146.5 L268.0,151.0 L269.5,148.5" stroke="#000000" stroke-width="1" fill="none" shape-rendering="crispEdges"/>
<rect x="270" y="148" width="6" height="1" fill="#000000"/>
<rect x="276" y="148" width="32" height="1" fill="#0000ff"/>
<rect x="306" y="146" width="3" height="5" fill="#000"/><rect x="305" y="147" width="5" height="3" fill="#000"/>
<text x="251" y="133" class="sch" >R1</text>
<text x="248" y="143" class="sch" >22k</text>
<rect x="200" y="148" width="1" height="55" fill="#0000ff"/>
<rect x="200" y="202" width="20" height="1" fill="#0000ff"/>
<rect x="220" y="202" width="5" height="1" fill="#000000"/>
<rect x="69" y="214" width="6" height="1" fill="#000000"/>
<rect x="76" y="214" width="10" height="1" fill="#0000ff"/>
<rect x="86" y="214" width="6" height="1" fill="#000000"/>
<path d="M92.5,214.5 L94.0,212.5 L98.0,217.0 L102.0,212.5 L106.0,217.0 L110.0,212.5 L114.0,217.0 L115.5,214.5" stroke="#000000" stroke-width="1" fill="none" shape-rendering="crispEdges"/>
<rect x="115" y="214" width="6" height="1" fill="#000000"/>
<rect x="122" y="214" width="17" height="1" fill="#0000ff"/>
<rect x="139" y="214" width="5" height="1" fill="#000000"/>
<path d="M144.5,214.5 L146.0,212.5 L150.0,217.0 L154.0,212.5 L158.0,217.0 L162.0,212.5 L166.0,217.0 L167.5,214.5" stroke="#000000" stroke-width="1" fill="none" shape-rendering="crispEdges"/>
<rect x="167" y="214" width="6" height="1" fill="#000000"/>
<rect x="174" y="214" width="46" height="1" fill="#0000ff"/>
<rect x="220" y="214" width="5" height="1" fill="#000000"/>
<rect x="127" y="212" width="3" height="5" fill="#000"/><rect x="126" y="213" width="5" height="3" fill="#000"/>
<rect x="179" y="212" width="3" height="5" fill="#000"/><rect x="178" y="213" width="5" height="3" fill="#000"/>
<text x="96" y="199" class="sch" >R2</text>
<text x="93" y="209" class="sch" >1Ok</text>
<text x="148" y="199" class="sch" >R3</text>
<text x="145" y="209" class="sch" >1Ok</text>
<rect x="19" y="199" width="50" height="40" fill="#0000ff"/>
<rect x="20" y="200" width="48" height="38" fill="#ffffff"/>
<path d="M32.5,215.0 L33.5,208.3 L34.5,206.3 L35.5,205.0 L36.5,204.1 L37.5,203.7 L38.5,203.5 L39.5,203.7 L40.5,204.1 L41.5,205.0 L42.5,206.3 L43.5,208.3 L44.5,215.0 L45.5,221.7 L46.5,223.7 L47.5,225.0 L48.5,225.9 L49.5,226.3 L50.5,226.5 L51.5,226.3 L52.5,225.9 L53.5,225.0 L54.5,223.7 L55.5,221.7 L56.5,215.0" stroke="#0000ff" stroke-width="1" fill="none" stroke-linejoin="round"/>
<rect x="26" y="215" width="7" height="1" fill="#0000ff"/>
<rect x="56" y="215" width="6" height="1" fill="#0000ff"/>
<text x="37" y="188" class="sch" >V1</text>
<text x="7" y="198" class="sch" >–1OOm/1OOmV</text>
<text x="23" y="236" class="sch" >1.OkHz</text>
<rect x="69" y="224" width="6" height="1" fill="#000000"/>
<rect x="75" y="224" width="18" height="1" fill="#0000ff"/>
<rect x="92" y="224" width="1" height="20" fill="#0000ff"/>
<rect x="92" y="245" width="1" height="5" fill="#000000"/>
<rect x="83" y="250" width="19" height="1" fill="#000000"/>
<rect x="87" y="254" width="10" height="1" fill="#000000"/>
<rect x="90" y="258" width="4" height="1" fill="#000000"/>
<rect x="180" y="214" width="1" height="18" fill="#0000ff"/>
<rect x="180" y="232" width="1" height="6" fill="#000000"/>
<rect x="172" y="238" width="16" height="1" fill="#000000"/>
<rect x="172" y="244" width="16" height="1" fill="#000000"/>
<rect x="180" y="245" width="1" height="5" fill="#000000"/>
<rect x="180" y="250" width="1" height="12" fill="#0000ff"/>
<rect x="180" y="262" width="1" height="6" fill="#000000"/>
<rect x="171" y="268" width="18" height="1" fill="#000000"/>
<rect x="175" y="272" width="11" height="1" fill="#000000"/>
<text x="201" y="239" class="sch" >C2</text>
<text x="187" y="250" class="sch" >.OO1uF</text>
<path d="M225.5,193.5 L249.5,208.5 L225.5,223.5 Z" stroke="#000000" stroke-width="1" fill="none" shape-rendering="crispEdges"/>
<rect x="228" y="202" width="6" height="1" fill="#0000ff"/>
<rect x="228" y="214" width="5" height="1" fill="#ff0000"/>
<rect x="230" y="212" width="1" height="5" fill="#ff0000"/>
<rect x="237" y="185" width="1" height="11" fill="#0000ff"/>
<rect x="237" y="196" width="1" height="5" fill="#000000"/>
<rect x="237" y="178" width="1" height="6" fill="#000000"/>
<rect x="235" y="172" width="4" height="1" fill="#000000"/>
<rect x="234" y="173" width="1" height="4" fill="#000000"/>
<rect x="239" y="173" width="1" height="4" fill="#000000"/>
<rect x="235" y="177" width="4" height="1" fill="#000000"/>
<text x="232" y="159" class="sch" >V3</text>
<text x="224" y="169" class="sch" >+15V</text>
<text x="257" y="181" class="sch" >U1</text>
<text x="243" y="191" class="sch" >LM3O1A</text>
<rect x="237" y="216" width="1" height="5" fill="#000000"/>
<rect x="237" y="221" width="1" height="21" fill="#0000ff"/>
<rect x="237" y="243" width="1" height="5" fill="#000000"/>
<rect x="235" y="248" width="4" height="1" fill="#000000"/>
<rect x="234" y="249" width="1" height="4" fill="#000000"/>
<rect x="239" y="249" width="1" height="4" fill="#000000"/>
<rect x="235" y="253" width="4" height="1" fill="#000000"/>
<text x="223" y="264" class="sch" >–15V</text>
<text x="231" y="274" class="sch" >V2</text>
<rect x="250" y="208" width="5" height="1" fill="#000000"/>
<rect x="255" y="208" width="53" height="1" fill="#0000ff"/>
<path d="M243.5,204.5 L247.5,200.5 M243.5,212.5 L247.5,216.5" stroke="#000000" stroke-width="1" fill="none" shape-rendering="crispEdges"/>
<rect x="247" y="200" width="6" height="1" fill="#000000"/>
<rect x="253" y="200" width="36" height="1" fill="#0000ff"/>
<rect x="288" y="200" width="1" height="17" fill="#0000ff"/>
<rect x="288" y="217" width="1" height="6" fill="#000000"/>
<rect x="281" y="223" width="16" height="1" fill="#000000"/>
<rect x="281" y="229" width="16" height="1" fill="#000000"/>
<rect x="288" y="230" width="1" height="5" fill="#000000"/>
<rect x="288" y="235" width="1" height="4" fill="#0000ff"/>
<rect x="266" y="238" width="23" height="1" fill="#0000ff"/>
<rect x="247" y="216" width="6" height="1" fill="#000000"/>
<rect x="254" y="216" width="13" height="1" fill="#0000ff"/>
<rect x="266" y="216" width="1" height="23" fill="#0000ff"/>
<text x="307" y="223" class="sch" >C1</text>
<text x="300" y="233" class="sch" >5OpF</text>
<path d="M304,169 H309 L312,172 V177 L309,180 H304 L301,177 V172 Z" fill="#fff" stroke="#000" stroke-width="2"/>
<text x="306.8" y="177.5" class="mk" text-anchor="middle">A</text>
<text x="320" y="107" class="big" >Low-pass</text>
<text x="320" y="126" class="big" >Active Filter</text>
<text x="333" y="169" class="mid" >Bessel:      C3=.OO13uF</text>
<text x="333" y="185" class="mid" >Butterworth: C3=.OO2uF</text>
<text x="333" y="201" class="mid" >Chebyshev:   C3=.OO68uF</text>
<rect x="4" y="301" width="26" height="22" fill="#000000"/>
<rect x="5" y="302" width="24" height="20" fill="#c0c0c0"/>
<rect x="5" y="302" width="24" height="1" fill="#ffffff"/>
<rect x="5" y="302" width="1" height="20" fill="#ffffff"/>
<rect x="5" y="321" width="24" height="1" fill="#808080"/>
<rect x="28" y="302" width="1" height="20" fill="#808080"/>
<rect x="6" y="320" width="22" height="1" fill="#808080"/>
<rect x="27" y="303" width="1" height="18" fill="#808080"/>
<rect x="9" y="303" width="1" height="16" fill="#000000"/>
<rect x="8" y="316" width="17" height="1" fill="#000000"/>
<path d="M9.5,302.5 L12,306 L7,306 Z" fill="#000" shape-rendering="auto"/><path d="M25,316.5 L21.5,314 L21.5,319 Z" fill="#000" shape-rendering="auto"/>
<path d="M13,309 V311.5 C13,315.5 16.5,315.5 17,311 C17.5,305 22.5,304 23,310.5" fill="none" stroke="#ff00ff" stroke-width="1.4" shape-rendering="auto"/>
<rect x="31" y="301" width="26" height="22" fill="#000000"/>
<rect x="32" y="302" width="24" height="20" fill="#c0c0c0"/>
<rect x="32" y="302" width="24" height="1" fill="#ffffff"/>
<rect x="32" y="302" width="1" height="20" fill="#ffffff"/>
<rect x="32" y="321" width="24" height="1" fill="#808080"/>
<rect x="55" y="302" width="1" height="20" fill="#808080"/>
<rect x="33" y="320" width="22" height="1" fill="#808080"/>
<rect x="54" y="303" width="1" height="18" fill="#808080"/>
<path d="M41.5,306.8 A6,5.2 0 1 1 40.5,315.5" fill="none" stroke="#000" stroke-width="1.1" shape-rendering="auto"/>
<path d="M36,309 L43.5,309 L39.5,313.5 Z" fill="#000" shape-rendering="auto"/>
<rect x="4" y="324" width="53" height="25" fill="#000000"/>
<rect x="5" y="325" width="16" height="11" fill="#c0c0c0"/>
<rect x="5" y="325" width="16" height="1" fill="#808080"/>
<rect x="5" y="325" width="1" height="11" fill="#808080"/>
<rect x="22" y="325" width="10" height="11" fill="#c0c0c0"/>
<rect x="22" y="325" width="10" height="1" fill="#ffffff"/>
<rect x="22" y="325" width="1" height="11" fill="#ffffff"/>
<rect x="22" y="335" width="10" height="1" fill="#808080"/>
<rect x="31" y="325" width="1" height="11" fill="#808080"/>
<rect x="33" y="325" width="11" height="11" fill="#c0c0c0"/>
<rect x="33" y="325" width="11" height="1" fill="#ffffff"/>
<rect x="33" y="325" width="1" height="11" fill="#ffffff"/>
<rect x="33" y="335" width="11" height="1" fill="#808080"/>
<rect x="43" y="325" width="1" height="11" fill="#808080"/>
<rect x="45" y="325" width="11" height="11" fill="#c0c0c0"/>
<rect x="45" y="325" width="11" height="1" fill="#ffffff"/>
<rect x="45" y="325" width="1" height="11" fill="#ffffff"/>
<rect x="45" y="335" width="11" height="1" fill="#808080"/>
<rect x="55" y="325" width="1" height="11" fill="#808080"/>
<rect x="5" y="337" width="16" height="11" fill="#c0c0c0"/>
<rect x="5" y="337" width="16" height="1" fill="#ffffff"/>
<rect x="5" y="337" width="1" height="11" fill="#ffffff"/>
<rect x="5" y="347" width="16" height="1" fill="#808080"/>
<rect x="20" y="337" width="1" height="11" fill="#808080"/>
<rect x="22" y="337" width="22" height="11" fill="#c0c0c0"/>
<rect x="22" y="337" width="22" height="1" fill="#808080"/>
<rect x="22" y="337" width="1" height="11" fill="#808080"/>
<rect x="45" y="337" width="11" height="11" fill="#c0c0c0"/>
<rect x="45" y="337" width="11" height="1" fill="#ffffff"/>
<rect x="45" y="337" width="1" height="11" fill="#ffffff"/>
<rect x="45" y="347" width="11" height="1" fill="#808080"/>
<rect x="55" y="337" width="1" height="11" fill="#808080"/>
<text x="6.3" y="335" class="sbb" textLength="13.5" lengthAdjust="spacingAndGlyphs">Off</text>
<text x="5.2" y="347" class="sbk" textLength="14.5" lengthAdjust="spacingAndGlyphs" style="font-size:10.5px">Man</text>
<text x="23.5" y="347" class="sbb" textLength="19" lengthAdjust="spacingAndGlyphs">Auto</text>
<path d="M24,330.5 L29,326 L29,335 Z" fill="#000"/>
<path d="M41,330.5 L36,326 L36,335 Z" fill="#000"/>
<path d="M50.5,326 L55,331 L46,331 Z" fill="#000"/>
<path d="M50.5,346 L55,340 L46,340 Z" fill="#000"/>
<text x="59" y="312" class="sch" >Xa: 12.7Ok</text>
<text x="143" y="312" class="schr" >Xb: 1O.OOMeg</text>
<text x="227" y="312" class="sch" >a–b:–9.987Meg</text>
<text x="59" y="326" class="sch" >Yc:–3.OOO</text>
<text x="143" y="326" class="sch" >Yd:–6O.OO</text>
<text x="227" y="326" class="sch" >c–d: 57.OO</text>
<text x="59" y="340" class="sch" >Offsets</text>
<text x="150" y="340" class="sch" >X: O.OOO</text>
<text x="240" y="340" class="sch" >Y: O.OOO</text>
<rect x="6" y="356" width="32" height="18" fill="#000000"/>
<rect x="8" y="359" width="28" height="13" fill="#ffffff"/>
<rect x="38" y="356" width="1" height="3" fill="#000000"/>
<text x="8.5" y="369" class="mk" >A</text>
<rect x="81" y="361" width="540" height="1" fill="#404040"/>
<rect x="81" y="426" width="540" height="1" fill="#404040"/>
<rect x="81" y="361" width="1" height="66" fill="#404040"/>
<rect x="81" y="374" width="540" height="1" fill="#404040"/>
<rect x="81" y="384" width="540" height="1" fill="#404040"/>
<rect x="81" y="394" width="540" height="1" fill="#404040"/>
<rect x="81" y="404" width="540" height="1" fill="#404040"/>
<rect x="81" y="414" width="540" height="1" fill="#404040"/>
<rect x="81" y="424" width="540" height="1" fill="#404040"/>
<rect x="81" y="361" width="1" height="66" fill="#404040"/>
<rect x="104" y="361" width="1" height="66" fill="#404040"/>
<rect x="117" y="361" width="1" height="66" fill="#404040"/>
<rect x="127" y="361" width="1" height="66" fill="#404040"/>
<rect x="134" y="361" width="1" height="66" fill="#404040"/>
<rect x="140" y="361" width="1" height="66" fill="#404040"/>
<rect x="146" y="361" width="1" height="66" fill="#404040"/>
<rect x="150" y="361" width="1" height="66" fill="#404040"/>
<rect x="154" y="361" width="1" height="66" fill="#404040"/>
<rect x="158" y="361" width="1" height="66" fill="#404040"/>
<rect x="181" y="361" width="1" height="66" fill="#404040"/>
<rect x="194" y="361" width="1" height="66" fill="#404040"/>
<rect x="204" y="361" width="1" height="66" fill="#404040"/>
<rect x="211" y="361" width="1" height="66" fill="#404040"/>
<rect x="217" y="361" width="1" height="66" fill="#404040"/>
<rect x="223" y="361" width="1" height="66" fill="#404040"/>
<rect x="227" y="361" width="1" height="66" fill="#404040"/>
<rect x="231" y="361" width="1" height="66" fill="#404040"/>
<rect x="235" y="361" width="1" height="66" fill="#404040"/>
<rect x="258" y="361" width="1" height="66" fill="#404040"/>
<rect x="271" y="361" width="1" height="66" fill="#404040"/>
<rect x="281" y="361" width="1" height="66" fill="#404040"/>
<rect x="288" y="361" width="1" height="66" fill="#404040"/>
<rect x="294" y="361" width="1" height="66" fill="#404040"/>
<rect x="300" y="361" width="1" height="66" fill="#404040"/>
<rect x="304" y="361" width="1" height="66" fill="#404040"/>
<rect x="308" y="361" width="1" height="66" fill="#404040"/>
<rect x="312" y="361" width="1" height="66" fill="#404040"/>
<rect x="335" y="361" width="1" height="66" fill="#404040"/>
<rect x="348" y="361" width="1" height="66" fill="#404040"/>
<rect x="358" y="361" width="1" height="66" fill="#404040"/>
<rect x="365" y="361" width="1" height="66" fill="#404040"/>
<rect x="371" y="361" width="1" height="66" fill="#404040"/>
<rect x="377" y="361" width="1" height="66" fill="#404040"/>
<rect x="381" y="361" width="1" height="66" fill="#404040"/>
<rect x="385" y="361" width="1" height="66" fill="#404040"/>
<rect x="389" y="361" width="1" height="66" fill="#404040"/>
<rect x="412" y="361" width="1" height="66" fill="#404040"/>
<rect x="425" y="361" width="1" height="66" fill="#404040"/>
<rect x="435" y="361" width="1" height="66" fill="#404040"/>
<rect x="442" y="361" width="1" height="66" fill="#404040"/>
<rect x="448" y="361" width="1" height="66" fill="#404040"/>
<rect x="454" y="361" width="1" height="66" fill="#404040"/>
<rect x="458" y="361" width="1" height="66" fill="#404040"/>
<rect x="462" y="361" width="1" height="66" fill="#404040"/>
<rect x="466" y="361" width="1" height="66" fill="#404040"/>
<rect x="489" y="361" width="1" height="66" fill="#404040"/>
<rect x="502" y="361" width="1" height="66" fill="#404040"/>
<rect x="512" y="361" width="1" height="66" fill="#404040"/>
<rect x="519" y="361" width="1" height="66" fill="#404040"/>
<rect x="525" y="361" width="1" height="66" fill="#404040"/>
<rect x="531" y="361" width="1" height="66" fill="#404040"/>
<rect x="535" y="361" width="1" height="66" fill="#404040"/>
<rect x="539" y="361" width="1" height="66" fill="#404040"/>
<rect x="543" y="361" width="1" height="66" fill="#404040"/>
<rect x="566" y="361" width="1" height="66" fill="#404040"/>
<rect x="579" y="361" width="1" height="66" fill="#404040"/>
<rect x="589" y="361" width="1" height="66" fill="#404040"/>
<rect x="596" y="361" width="1" height="66" fill="#404040"/>
<rect x="602" y="361" width="1" height="66" fill="#404040"/>
<rect x="608" y="361" width="1" height="66" fill="#404040"/>
<rect x="612" y="361" width="1" height="66" fill="#404040"/>
<rect x="616" y="361" width="1" height="66" fill="#404040"/>
<rect x="620" y="361" width="1" height="66" fill="#404040"/>
<rect x="82" y="366" width="5" height="1" fill="#404040"/>
<rect x="82" y="368" width="5" height="1" fill="#404040"/>
<rect x="82" y="370" width="5" height="1" fill="#404040"/>
<rect x="82" y="372" width="5" height="1" fill="#404040"/>
<rect x="82" y="376" width="5" height="1" fill="#404040"/>
<rect x="82" y="378" width="5" height="1" fill="#404040"/>
<rect x="82" y="380" width="5" height="1" fill="#404040"/>
<rect x="82" y="382" width="5" height="1" fill="#404040"/>
<rect x="82" y="386" width="5" height="1" fill="#404040"/>
<rect x="82" y="388" width="5" height="1" fill="#404040"/>
<rect x="82" y="390" width="5" height="1" fill="#404040"/>
<rect x="82" y="392" width="5" height="1" fill="#404040"/>
<rect x="82" y="396" width="5" height="1" fill="#404040"/>
<rect x="82" y="398" width="5" height="1" fill="#404040"/>
<rect x="82" y="400" width="5" height="1" fill="#404040"/>
<rect x="82" y="402" width="5" height="1" fill="#404040"/>
<rect x="82" y="406" width="5" height="1" fill="#404040"/>
<rect x="82" y="408" width="5" height="1" fill="#404040"/>
<rect x="82" y="410" width="5" height="1" fill="#404040"/>
<rect x="82" y="412" width="5" height="1" fill="#404040"/>
<rect x="82" y="416" width="5" height="1" fill="#404040"/>
<rect x="82" y="418" width="5" height="1" fill="#404040"/>
<rect x="82" y="420" width="5" height="1" fill="#404040"/>
<rect x="82" y="422" width="5" height="1" fill="#404040"/>
<text x="78" y="368" class="sch" text-anchor="end">O</text>
<text x="78" y="378" class="sch" text-anchor="end">–1O</text>
<text x="78" y="388" class="sch" text-anchor="end">–2O</text>
<text x="78" y="398" class="sch" text-anchor="end">–3O</text>
<text x="78" y="408" class="sch" text-anchor="end">–4O</text>
<text x="78" y="418" class="sch" text-anchor="end">–5O</text>
<text x="78" y="428" class="sch" text-anchor="end">–6O</text>
<text x="81.5" y="438" class="sch" text-anchor="middle">1</text>
<text x="158.5" y="438" class="sch" text-anchor="middle">1O</text>
<text x="235.5" y="438" class="sch" text-anchor="middle">1OO</text>
<text x="312.5" y="438" class="sch" text-anchor="middle">1k</text>
<text x="389.5" y="438" class="sch" text-anchor="middle">1Ok</text>
<text x="466.5" y="438" class="sch" text-anchor="middle">1OOk</text>
<text x="543.5" y="438" class="sch" text-anchor="middle">1Meg</text>
<text x="620.5" y="438" class="sch" text-anchor="middle">1OMeg</text>
<text x="256" y="451" class="sch" >Ref=Ground  X=frequency(Hz)</text>
<rect x="81" y="363" width="263" height="2" fill="#000000"/>
<rect x="344" y="364" width="36" height="2" fill="#000000"/>
<path d="M379,365 L380,365 L385,366 L392,367.5 L397,369 L400,369.75 L404,371.5 L410,374 L413,376 L425,382 L437,388 L450,394.5 L462,401 L475,407.5 L480,409.75 L483,411.25 L487,412.5 L490,414.5 L494,416 L499,417 L505,417.5 L510,416.8 L518,416 L525,415 L532,414 L543,413.2 L585,413 L586,414 L620,414" stroke="#000000" stroke-width="2.4" fill="none" stroke-linejoin="round" shape-rendering="auto"/>
<rect x="397" y="363" width="1" height="61" fill="#000000"/>
<path d="M391.5,349.5 H403.5 V356.5 L397.5,363 L391.5,356.5 Z" fill="#fff" stroke="#000" stroke-width="1" shape-rendering="crispEdges"/>
<text x="397.5" y="358" class="mk" text-anchor="middle">a</text>
<rect x="620" y="363" width="1" height="61" fill="#ff0000"/>
<path d="M614.5,349.5 H626.5 V356.5 L620.5,363 L614.5,356.5 Z" fill="#fff" stroke="#f00" stroke-width="1" shape-rendering="crispEdges"/>
<text x="620.5" y="358" class="mk" text-anchor="middle">b</text>
<path d="M621,367.5 L627.5,361.5 H635.5 V373.5 H627.5 Z" fill="#fff" stroke="#000" stroke-width="1" shape-rendering="crispEdges"/>
<text x="628.5" y="371" class="mk" >c</text>
<path d="M621,424.5 L627.5,418.5 H635.5 V430.5 H627.5 Z" fill="#fff" stroke="#000" stroke-width="1" shape-rendering="crispEdges"/>
<text x="628.5" y="428" class="mk" >d</text>
<rect x="636" y="279" width="2" height="187" fill="#c0c0c0"/>
<rect x="638" y="276" width="1" height="191" fill="#808080"/>
<rect x="639" y="275" width="1" height="193" fill="#000000"/>
</svg></body></html>
